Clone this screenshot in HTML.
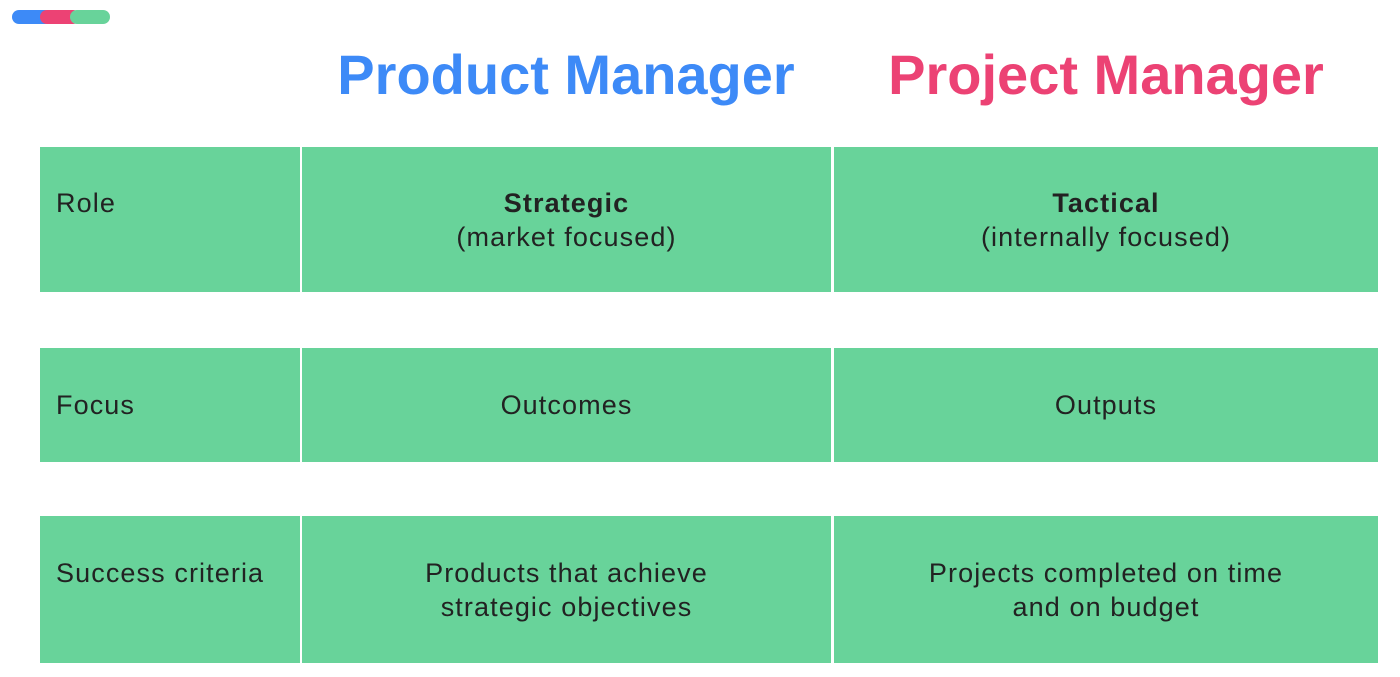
<!DOCTYPE html>
<html><head><style>
body{margin:0;width:1400px;height:677px;background:#fff;position:relative;overflow:hidden;font-family:"Liberation Sans",sans-serif;}
.p{position:absolute;height:14px;top:10px;border-radius:7px;}
.t{position:absolute;top:42px;font-weight:bold;font-size:56px;text-align:center;width:600px;line-height:66px;}
.c{position:absolute;background:#68d39a;color:#222;font-size:27px;letter-spacing:1.1px;line-height:34px;display:flex;align-items:center;box-sizing:border-box;}
.l{padding-left:16px;}
.m{justify-content:center;text-align:center;}
.u{padding-bottom:34px;}
</style></head><body>
<div class="p" style="left:12px;width:40px;background:#3d8af7"></div>
<div class="p" style="left:40px;width:40px;background:#ec4274"></div>
<div class="p" style="left:70px;width:40px;background:#68d39a"></div>
<div class="t" style="left:266px;color:#3d8af7">Product Manager</div>
<div class="t" style="left:806px;color:#ec4274">Project Manager</div>

<div class="c l u" style="left:40px;top:147px;width:260px;height:145px">Role</div>
<div class="c m" style="left:302px;top:147px;width:529px;height:145px"><div><b>Strategic</b><br>(market focused)</div></div>
<div class="c m" style="left:834px;top:147px;width:544px;height:145px"><div><b>Tactical</b><br>(internally focused)</div></div>

<div class="c l" style="left:40px;top:348px;width:260px;height:114px">Focus</div>
<div class="c m" style="left:302px;top:348px;width:529px;height:114px">Outcomes</div>
<div class="c m" style="left:834px;top:348px;width:544px;height:114px">Outputs</div>

<div class="c l u" style="left:40px;top:516px;width:260px;height:147px">Success criteria</div>
<div class="c m" style="left:302px;top:516px;width:529px;height:147px"><div>Products that achieve<br>strategic objectives</div></div>
<div class="c m" style="left:834px;top:516px;width:544px;height:147px"><div>Projects completed on time<br>and on budget</div></div>
</body></html>
